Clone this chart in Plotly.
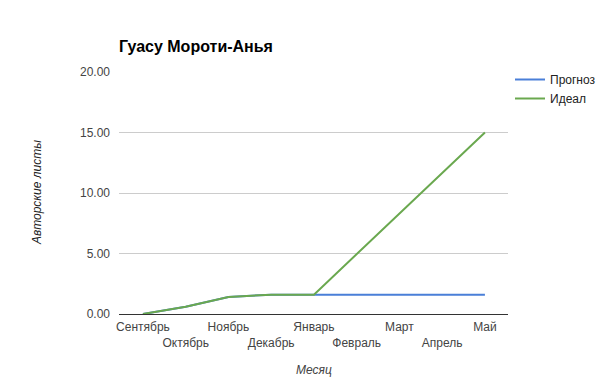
import plotly.graph_objects as go

months = ["Сентябрь", "Октябрь", "Ноябрь", "Декабрь", "Январь",
          "Февраль", "Март", "Апрель", "Май"]
prognoz = [0.0, 0.6, 1.4, 1.6, 1.6, 1.6, 1.6, 1.6, 1.6]
ideal = [0.0, 0.6, 1.4, 1.6, 1.6, 4.95, 8.3, 11.65, 15.0]
y_ticks = [0, 5, 10, 15, 20]
y_ticklabels = ["0.00", "5.00", "10.00", "15.00", "20.00"]

xpos = list(range(len(months)))
tick_text = [m if i % 2 == 0 else "<br>" + m for i, m in enumerate(months)]

# the page body has an 8px margin, so the figure is drawn 8px smaller
OFF = 8
W, H = 605 - OFF, 377 - OFF
L, R, T, B = 119 - OFF, 97, 72 - OFF, 63
pw, ph = W - L - R, H - T - B

fig = go.Figure()
fig.add_trace(go.Scatter(x=xpos, y=prognoz, mode="lines", name="Прогноз",
                         line=dict(color="#4a7fd8", width=2)))
fig.add_trace(go.Scatter(x=xpos, y=ideal, mode="lines", name="Идеал",
                         line=dict(color="#6aa84f", width=2)))

fig.update_layout(
    width=W, height=H,
    margin=dict(l=L, r=R, t=T, b=B, autoexpand=False),
    paper_bgcolor="white", plot_bgcolor="white",
    font=dict(family="Liberation Sans, Arial, sans-serif", size=12, color="#444"),
    title=dict(text="<b>Гуасу Мороти-Анья</b>", x=L/W, xanchor="left",
               y=1 - (46 - OFF)/H, yanchor="middle",
               font=dict(size=16, color="#000")),
    legend=dict(xref="container", yref="container",
                x=(510 - OFF)/W, xanchor="left", y=1 - (65 - OFF)/H, yanchor="top",
                font=dict(size=12, color="#222"), tracegroupgap=4,
                itemwidth=30, bgcolor="rgba(0,0,0,0)"),
    showlegend=True,
    annotations=[
        dict(text="<i>Месяц</i>", xref="paper", yref="paper",
             x=0.5, y=(T + ph - (370 - OFF)) / ph, xanchor="center", yanchor="middle",
             showarrow=False, font=dict(size=12, color="#444")),
        dict(text="<i>Авторские листы</i>", xref="paper", yref="paper",
             x=((37 - OFF) - L) / pw, y=0.5, xanchor="center", yanchor="middle",
             textangle=-90,
             showarrow=False, font=dict(size=12, color="#222")),
    ],
)
fig.update_xaxes(range=[-0.56, 8.54], tickvals=xpos, ticktext=tick_text,
                 tickangle=0, automargin=False, ticklabelstandoff=4,
                 showgrid=False, zeroline=False, showline=False, ticks="",
                 tickfont=dict(size=12, color="#444"))
fig.update_yaxes(range=[0, 20], tickvals=y_ticks, ticktext=y_ticklabels,
                 automargin=False,
                 showgrid=True, gridcolor="#cccccc", gridwidth=1,
                 zeroline=True, zerolinecolor="#333333", zerolinewidth=1,
                 showline=False, ticks="", ticklabelstandoff=8,
                 tickfont=dict(size=12, color="#444"))

fig.write_html("out.html")
